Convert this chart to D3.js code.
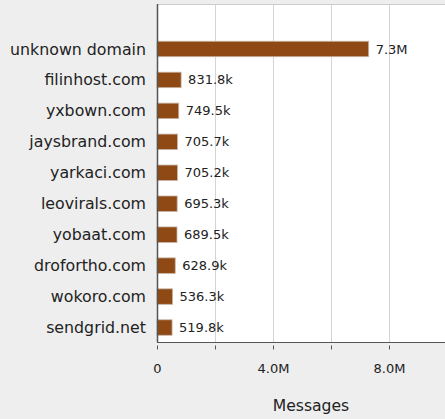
<!DOCTYPE html>
<html><head><meta charset="utf-8">
<script src="https://cdn.jsdelivr.net/npm/d3@7"></script>
<style>
html,body{margin:0;padding:0;background:#eeeeee;}
svg{display:block;font-family:"DejaVu Sans",sans-serif;}
</style></head>
<body>
<svg id="chart" width="445" height="419"></svg>
<script>
const categories = ["unknown domain","filinhost.com","yxbown.com","jaysbrand.com","yarkaci.com","leovirals.com","yobaat.com","drofortho.com","wokoro.com","sendgrid.net"];
const values = [7300000,831800,749500,705700,705200,695300,689500,628900,536300,519800];
const valueLabels = ["7.3M","831.8k","749.5k","705.7k","705.2k","695.3k","689.5k","628.9k","536.3k","519.8k"];
const tickValues = [0,2000000,4000000,6000000,8000000,10000000];
const tickLabels = {0:"0",4000000:"4.0M",8000000:"8.0M"};
const axisTitle = "Messages";

(function(){
const svg = d3.select("#chart");
const mLeft = 157, mTop = 4, mBottom = 342, mRight = 465;

const x = d3.scaleLinear().domain([0, 10000000]).range([mLeft, mLeft + 290]);
const y = d3.scaleBand().domain(categories).range([33.5, 343]).paddingInner(0.5).paddingOuter(0.25);

svg.append("rect").attr("x", mLeft).attr("y", mTop).attr("width", mRight - mLeft).attr("height", mBottom - mTop).attr("fill", "#fff");

// gridlines
svg.append("g").selectAll("line").data(tickValues.slice(1)).join("line")
  .attr("x1", d => Math.round(x(d)) + 0.5).attr("x2", d => Math.round(x(d)) + 0.5)
  .attr("y1", mTop).attr("y2", mBottom)
  .attr("stroke", "#d4d4d4").attr("stroke-width", 1);

// top border
svg.append("line").attr("x1", mLeft).attr("x2", mRight).attr("y1", mTop + 0.5).attr("y2", mTop + 0.5).attr("stroke", "#cccccc");

// bars
svg.append("g").selectAll("rect").data(categories).join("rect")
  .attr("x", x(0)).attr("y", d => y(d))
  .attr("width", (d, i) => x(values[i]) - x(0))
  .attr("height", y.bandwidth())
  .attr("fill", "#8e4915").attr("stroke", "#c8b4a6").attr("stroke-width", 0.8);

// value labels
svg.append("g").selectAll("text").data(categories).join("text")
  .attr("x", (d, i) => x(values[i]) + 7)
  .attr("y", d => y(d) + y.bandwidth() / 2)
  .attr("dy", "0.35em").attr("font-size", 13).attr("fill", "#222")
  .text((d, i) => valueLabels[i]);

// category labels
svg.append("g").selectAll("text").data(categories).join("text")
  .attr("x", 146).attr("y", d => y(d) + y.bandwidth() / 2)
  .attr("dy", "0.35em").attr("text-anchor", "end").attr("font-size", 15.8).attr("fill", "#222")
  .text(d => d);

// axis lines
svg.append("line").attr("x1", mLeft + 0.5).attr("x2", mLeft + 0.5).attr("y1", mTop).attr("y2", mBottom).attr("stroke", "#555").attr("stroke-width", 1.5);
svg.append("line").attr("x1", mLeft).attr("x2", mRight).attr("y1", mBottom + 0.5).attr("y2", mBottom + 0.5).attr("stroke", "#555");

// x axis
const xAxis = d3.axisBottom(x).tickValues(tickValues.slice(0, 5)).tickSize(4).tickPadding(14)
  .tickFormat(d => tickLabels[d] || "");
const gx = svg.append("g").attr("transform", `translate(0,${mBottom + 3.5})`).call(xAxis);
gx.select(".domain").remove();
gx.selectAll(".tick line").attr("stroke", "#555");
gx.selectAll(".tick text").attr("font-size", 13).attr("fill", "#222").attr("font-family", "DejaVu Sans");

svg.append("text").attr("x", 311).attr("y", 406).attr("dy", "0.35em").attr("text-anchor", "middle")
  .attr("font-size", 15.6).attr("fill", "#222").text(axisTitle);
})();
</script>
</body></html>
